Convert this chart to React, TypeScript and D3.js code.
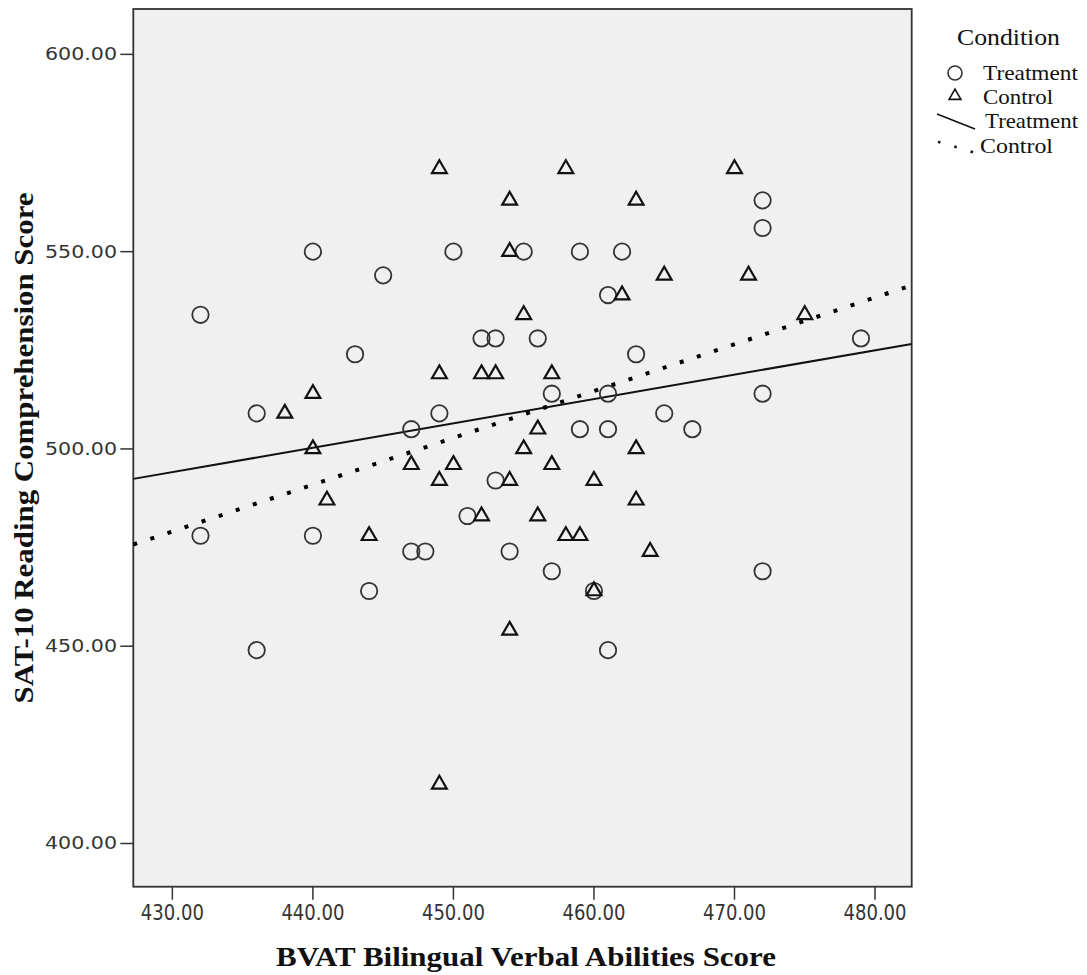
import React from 'react';
import * as d3 from 'd3';

// BVAT (x) and SAT-10 (y) values
const treatmentX = [432, 432, 436, 436, 440, 440, 443, 444, 445, 447, 447, 448, 449, 450, 451, 452, 453, 453, 454, 455, 456, 457, 457, 459, 459, 460, 461, 461, 461, 461, 462, 463, 465, 467, 472, 472, 472, 472, 479];
const treatmentY = [534, 478, 509, 449, 550, 478, 524, 464, 544, 505, 474, 474, 509, 550, 483, 528, 528, 492, 474, 550, 528, 514, 469, 550, 505, 464, 539, 514, 505, 449, 550, 524, 509, 505, 563, 556, 514, 469, 528];

const controlX = [438, 440, 440, 441, 444, 447, 449, 449, 449, 449, 450, 452, 452, 453, 454, 454, 454, 454, 455, 455, 456, 456, 457, 457, 458, 458, 459, 460, 460, 462, 463, 463, 463, 464, 465, 470, 471, 475];
const controlY = [509, 514, 500, 487, 478, 496, 571, 519, 492, 415, 496, 519, 483, 519, 563, 550, 492, 454, 534, 500, 505, 483, 519, 496, 571, 478, 478, 492, 464, 539, 563, 500, 487, 474, 544, 571, 544, 534];

// fit lines: intercept, slope
const treatmentFit = [228.6, 0.6175];
const controlFit = [-30.9, 1.186];

const xTicks = [430, 440, 450, 460, 470, 480];
const yTicks = [400, 450, 500, 550, 600];

const xTitle = 'BVAT Bilingual Verbal Abilities Score';
const yTitle = 'SAT-10 Reading Comprehension Score';
const legendTitle = 'Condition';
const legendLabels = ['Treatment', 'Control', 'Treatment', 'Control'];

const W = 1087;
const H = 975;
const plot = { left: 133.3, right: 911.7, top: 9, bottom: 886.7 };

const x = d3.scaleLinear().domain([427.22, 482.61]).range([plot.left, plot.right]);
const y = d3.scaleLinear().domain([389.05, 611.5]).range([plot.bottom, plot.top]);

const tri = d3.symbol().type(d3.symbolTriangle).size(95)();

const fitLine = (fit: number[]) => {
  const [a, b] = fit;
  const [x0, x1] = x.domain();
  return d3.line<number>().x(d => x(d)).y(d => y(a + b * d))([x0, x1]);
};

const sans = 'DejaVu Sans, Verdana, sans-serif';
const serif = 'Liberation Serif, Times New Roman, serif';

export default function App() {
  return (
    <svg width={W} height={H} style={{ position: 'absolute', left: 0, top: 0, background: '#fff' }}>
      <rect x={plot.left} y={plot.top} width={plot.right - plot.left} height={plot.bottom - plot.top}
        fill="#f0f0f0" stroke="#333" strokeWidth={1.8} />

      {/* y axis */}
      {yTicks.map(t => (
        <g key={t}>
          <line x1={plot.left - 13} x2={plot.left} y1={y(t)} y2={y(t)} stroke="#333" strokeWidth={1.5} />
          <text x={117} y={y(t) + 6} textAnchor="end" fontFamily={sans} fontSize={17}
            textLength={72} lengthAdjust="spacingAndGlyphs" fill="#333">{t.toFixed(2)}</text>
        </g>
      ))}
      {/* x axis */}
      {xTicks.map(t => (
        <g key={t}>
          <line x1={x(t)} x2={x(t)} y1={plot.bottom} y2={plot.bottom + 13} stroke="#333" strokeWidth={1.5} />
          <text x={x(t)} y={920} textAnchor="middle" fontFamily={sans} fontSize={21}
            textLength={63} lengthAdjust="spacingAndGlyphs" fill="#333">{t.toFixed(2)}</text>
        </g>
      ))}

      <text x={526} y={966} textAnchor="middle" fontFamily={serif} fontWeight="bold" fontSize={27}
        textLength={500} lengthAdjust="spacingAndGlyphs" fill="#111">{xTitle}</text>
      <text transform={`translate(33,448) rotate(-90)`} textAnchor="middle" fontFamily={serif} fontWeight="bold"
        fontSize={27} textLength={511} lengthAdjust="spacingAndGlyphs" fill="#111">{yTitle}</text>

      {/* fit lines */}
      <path d={fitLine(treatmentFit) ?? ''} fill="none" stroke="#111" strokeWidth={2} />
      <path d={fitLine(controlFit) ?? ''} fill="none" stroke="#000" strokeWidth={4} strokeDasharray="4 14" />

      {/* points */}
      {treatmentX.map((v, i) => (
        <circle key={'t' + i} cx={x(v)} cy={y(treatmentY[i])} r={8.2} fill="none" stroke="#333" strokeWidth={1.8} />
      ))}
      {controlX.map((v, i) => (
        <path key={'c' + i} d={tri ?? ''} transform={`translate(${x(v)},${y(controlY[i])})`}
          fill="none" stroke="#111" strokeWidth={2.2} />
      ))}

      {/* legend */}
      <g fontFamily={serif} fill="#111">
        <text x={957} y={45} fontSize={23} textLength={103} lengthAdjust="spacingAndGlyphs">{legendTitle}</text>
        <circle cx={955} cy={73} r={7} fill="none" stroke="#333" strokeWidth={1.6} />
        <path d={tri ?? ''} transform="translate(955,96) scale(0.8)" fill="none" stroke="#111" strokeWidth={2} />
        <line x1={937} y1={114} x2={975} y2={129} stroke="#111" strokeWidth={1.6} />
        <line x1={938} y1={141.7} x2={974} y2={152.5} stroke="#111" strokeWidth={2.6} strokeDasharray="2.5 14.5" />
        {legendLabels.map((l, i) => (
          <text key={i} x={[983, 983, 985, 980][i]} y={[80, 104, 128, 153][i]} fontSize={21}
            textLength={[95, 70, 93, 73][i]} lengthAdjust="spacingAndGlyphs">{l}</text>
        ))}
      </g>
    </svg>
  );
}
